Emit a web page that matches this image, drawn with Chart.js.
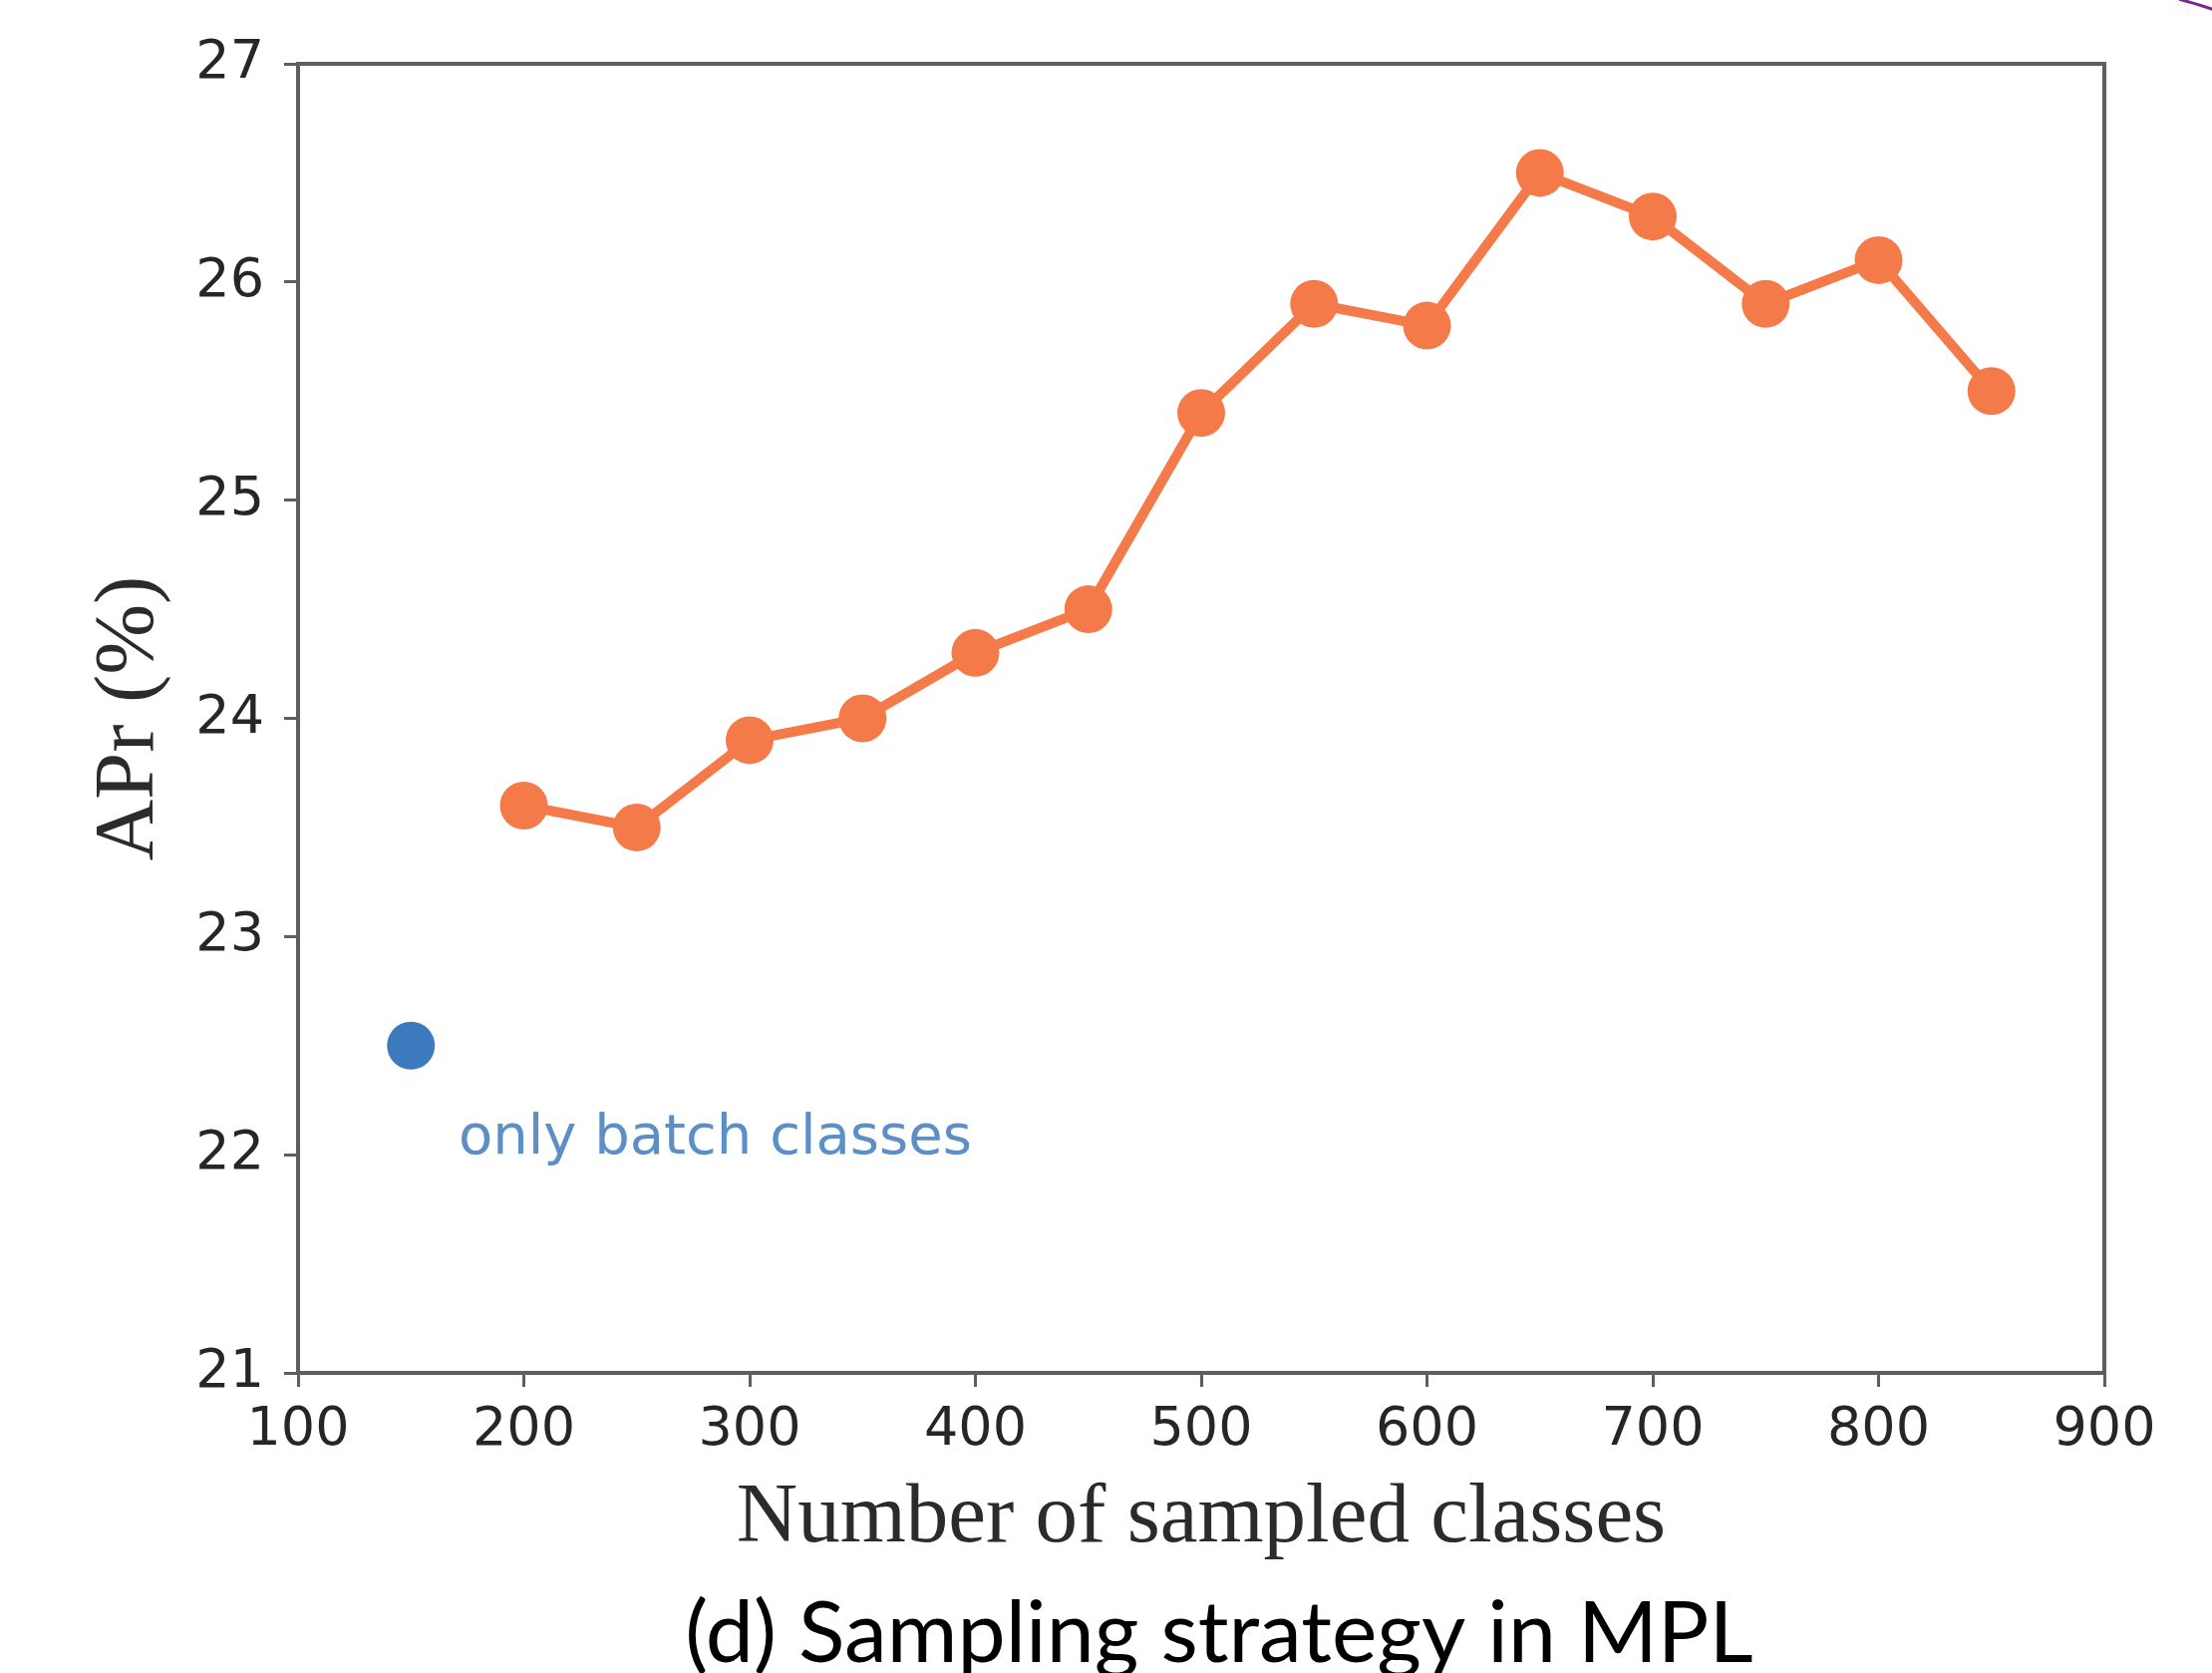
<!DOCTYPE html>
<html>
<head>
<meta charset="utf-8">
<script src="https://cdn.jsdelivr.net/npm/chart.js@4"></script>
<style>
  html, body { margin: 0; padding: 0; background: #fff; }
  #wrap { width: 2219px; height: 1678px; }
</style>
</head>
<body>
<div id="wrap"><canvas id="chart" width="2219" height="1678"></canvas></div>
<script>
// data
const sampledClasses = [200, 250, 300, 350, 400, 450, 500, 550, 600, 650, 700, 750, 800, 850];
const aprValues = [23.6, 23.5, 23.9, 24.0, 24.3, 24.5, 25.4, 25.9, 25.8, 26.5, 26.3, 25.9, 26.1, 25.5];
const batchOnlyX = [150];
const batchOnlyY = [22.5];
const xTicks = [100, 200, 300, 400, 500, 600, 700, 800, 900];
const yTicks = [21, 22, 23, 24, 25, 26, 27];

const orange = '#f57a49';
const blue = '#3b7bbd';
const axisGray = '#5e5e5e';

// frame, titles, caption and the note next to the blue dot
const extras = {
  id: 'extras',
  beforeDatasetsDraw(chart) {
    const { ctx, chartArea: a } = chart;
    ctx.save();
    ctx.strokeStyle = axisGray;
    ctx.lineWidth = 4;
    ctx.strokeRect(a.left, a.top, a.right - a.left, a.bottom - a.top);
    ctx.restore();
  },
  afterDraw(chart) {
    const { ctx, chartArea: a } = chart;
    const cx = (a.left + a.right) / 2;
    ctx.save();
    ctx.fillStyle = '#2b2b2b';
    ctx.textAlign = 'center';
    ctx.textBaseline = 'middle';

    // x axis title
    ctx.font = '85px "Liberation Serif", serif';
    ctx.fillText('Number of sampled classes', cx, 1524);

    // y axis title
    ctx.save();
    ctx.translate(131, (a.top + a.bottom) / 2);
    ctx.rotate(-Math.PI / 2);
    ctx.fillText('APr (%)', 0, 0);
    ctx.restore();

    // caption under the figure
    ctx.fillStyle = '#000';
    ctx.font = '86px Lato, "Open Sans", sans-serif';
    ctx.textBaseline = 'alphabetic';
    ctx.fillText('(d) Sampling strategy in MPL', 1223, 1667);

    // label for the single blue point
    ctx.fillStyle = '#5b8fc6';
    ctx.font = '56px "DejaVu Sans", sans-serif';
    ctx.textAlign = 'left';
    ctx.textBaseline = 'middle';
    ctx.fillText('only batch classes', 460, 1142);

    // bit of the slide decoration in the corner
    ctx.strokeStyle = '#7a2a8c';
    ctx.lineWidth = 3;
    ctx.beginPath();
    ctx.arc(2100, 350, 361, -1.33, -1.0);
    ctx.stroke();
    ctx.restore();
  }
};

new Chart(document.getElementById('chart'), {
  type: 'scatter',
  data: {
    datasets: [
      {
        label: 'sampled',
        data: sampledClasses.map((x, i) => ({ x: x, y: aprValues[i] })),
        showLine: true,
        borderColor: orange,
        backgroundColor: orange,
        borderWidth: 10,
        pointRadius: 24,
        pointHoverRadius: 24,
        pointBorderWidth: 0,
      },
      {
        label: 'only batch classes',
        data: batchOnlyX.map((x, i) => ({ x: x, y: batchOnlyY[i] })),
        showLine: false,
        backgroundColor: blue,
        borderColor: blue,
        pointRadius: 24,
        pointHoverRadius: 24,
        pointBorderWidth: 0,
      },
    ],
  },
  plugins: [extras],
  options: {
    responsive: false,
    animation: false,
    devicePixelRatio: 1,
    layout: { padding: { top: 64, right: 108, left: 0, bottom: 0 } },
    plugins: {
      legend: { display: false },
      tooltip: { enabled: false },
    },
    scales: {
      x: {
        type: 'linear',
        min: 100,
        max: 900,
        afterFit: s => { s.height = 301; },
        afterBuildTicks: s => { s.ticks = xTicks.map(v => ({ value: v })); },
        border: { display: false },
        grid: { drawOnChartArea: false, tickLength: 14, tickWidth: 3, tickColor: axisGray },
        ticks: { padding: 12, color: '#262626', font: { family: 'DejaVu Sans', size: 54 }, maxRotation: 0 },
      },
      y: {
        min: 21,
        max: 27,
        afterFit: s => { s.width = 299; },
        afterBuildTicks: s => { s.ticks = yTicks.map(v => ({ value: v })); },
        border: { display: false },
        grid: { drawOnChartArea: false, tickLength: 14, tickWidth: 3, tickColor: axisGray },
        ticks: { padding: 20, color: '#262626', font: { family: 'DejaVu Sans', size: 54 } },
      },
    },
  },
});
</script>
</body>
</html>
